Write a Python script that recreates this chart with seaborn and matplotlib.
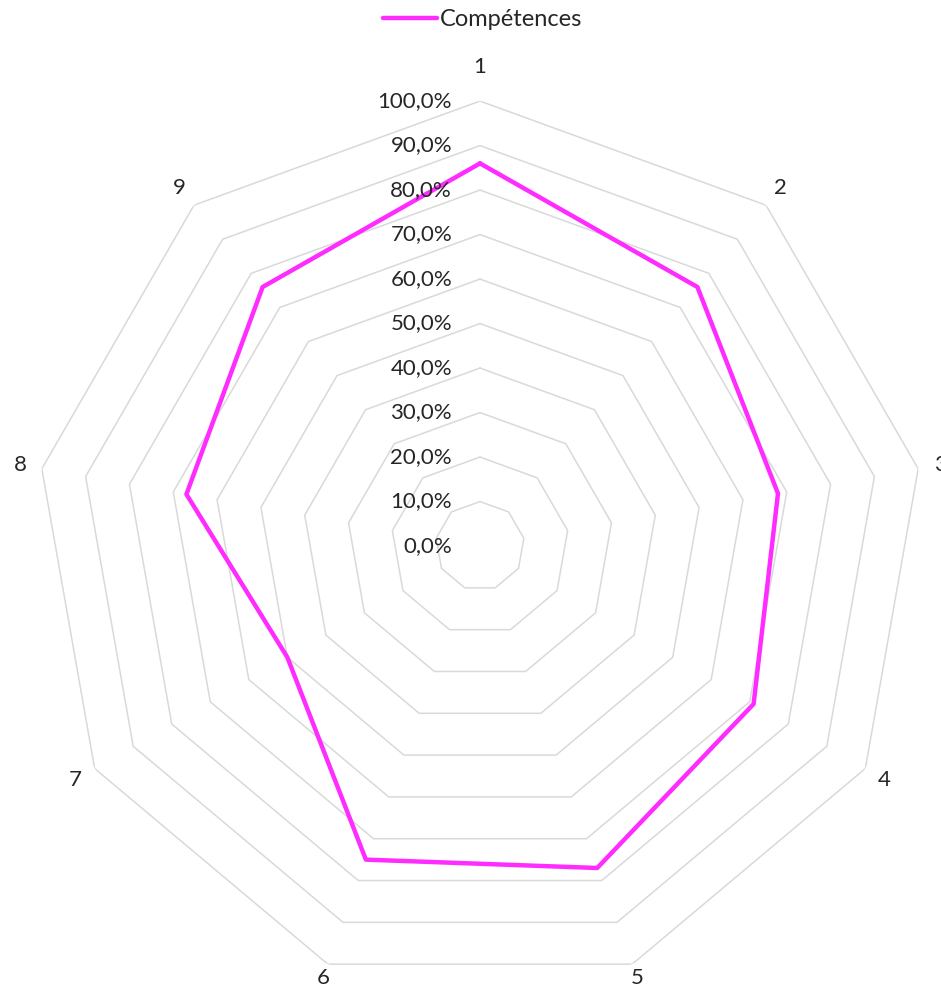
import numpy as np
import pandas as pd
import matplotlib
matplotlib.use("Agg")
import matplotlib.pyplot as plt
import matplotlib.transforms as mtransforms
import seaborn as sns

# data
axes_labels = ["1", "2", "3", "4", "5", "6", "7", "8", "9"]
competences = [0.86, 0.76, 0.68, 0.71, 0.77, 0.75, 0.50, 0.67, 0.76]
ring_levels = [0.1, 0.2, 0.3, 0.4, 0.5, 0.6, 0.7, 0.8, 0.9, 1.0]
tick_levels = [0.0, 0.1, 0.2, 0.3, 0.4, 0.5, 0.6, 0.7, 0.8, 0.9, 1.0]

sns.set_style("white")
plt.rcParams["font.family"] = ["Lato", "DejaVu Sans"]

line_color = "#ff2cff"
grid_color = "#d9d9d9"
text_color = "#262626"

n = len(axes_labels)
theta = np.linspace(0, 2 * np.pi, n, endpoint=False)

fig = plt.figure(figsize=(9.41, 9.91), dpi=100)
ax = fig.add_axes([0.0372, 0.0, 0.9458, 0.898], projection="polar")
ax.set_theta_zero_location("N")
ax.set_theta_direction(-1)
ax.set_ylim(0, 1)
ax.grid(False)
ax.spines["polar"].set_visible(False)
ax.set_xticks([])
ax.set_yticks([])

# nonagon rings
theta_closed = np.append(theta, theta[0])
for lvl in ring_levels:
    ax.plot(theta_closed, [lvl] * (n + 1), color=grid_color, lw=1.1, zorder=1)

# data series (closed loop, no aggregation)
df = pd.DataFrame({
    "theta": theta_closed,
    "value": competences + [competences[0]],
    "serie": "Compétences",
})
sns.lineplot(data=df, x="theta", y="value", hue="serie", sort=False,
             estimator=None, palette=[line_color], lw=3.2, ax=ax,
             zorder=3, legend=False)
ax.set_xlabel("")
ax.set_ylabel("")

# percent labels along axis 1
offset = mtransforms.ScaledTranslation(-0.28, 0, fig.dpi_scale_trans)
for lvl in tick_levels:
    lab = f"{lvl * 100:.1f}%".replace(".", ",")
    ax.text(0, lvl, lab, ha="right", va="center", fontsize=16,
            color=text_color, transform=ax.transData + offset, zorder=4)

# category labels
for t, lab in zip(theta, axes_labels):
    if t == 0:
        r = 1.077
    elif np.cos(t) < -0.9:
        r = 1.032
    else:
        r = 1.05
    ax.text(t, r, lab, ha="center", va="center", fontsize=16,
            color=text_color, clip_on=False)

# legend
handle = plt.Line2D([], [], color=line_color, lw=3.2)
fig.legend([handle], ["Compétences"], loc="upper center",
           bbox_to_anchor=(0.513, 1.012), frameon=False, fontsize=17,
           handlelength=2.3, handletextpad=0.12, labelcolor=text_color)

fig.savefig("out.png", dpi=100)
